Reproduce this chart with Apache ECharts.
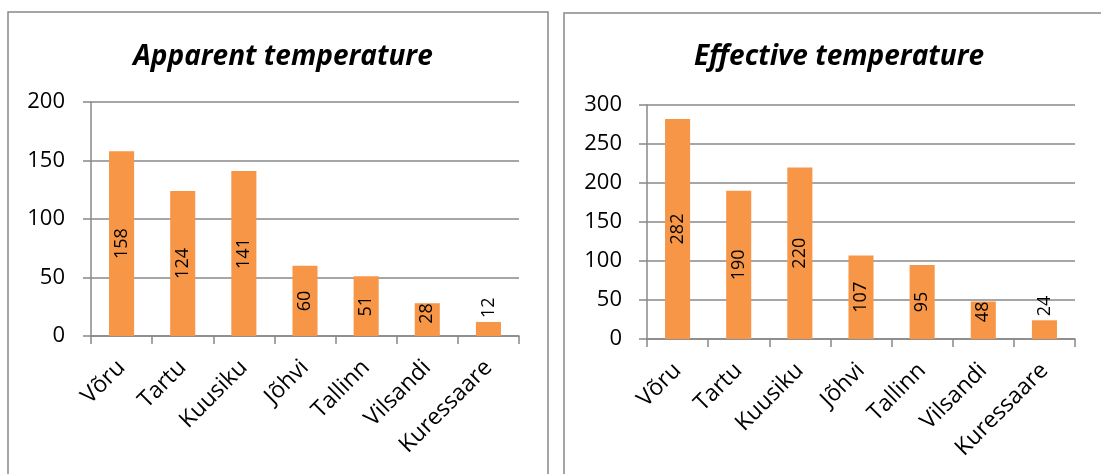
<!DOCTYPE html>
<html>
<head>
<meta charset="utf-8">
<title>Apparent and effective temperature</title>
<script src="https://cdn.jsdelivr.net/npm/echarts@6/dist/echarts.min.js"></script>
<style>
  html, body { margin: 0; padding: 0; background: #fff; }
  #chart { width: 1101px; height: 474px; }
</style>
</head>
<body>
<div id="chart"></div>
<script>
// Stations, shared by both panels
const stations = ['Võru', 'Tartu', 'Kuusiku', 'Jõhvi', 'Tallinn', 'Vilsandi', 'Kuressaare'];

// Panel values
const apparentValues = [158, 124, 141, 60, 51, 28, 12];
const effectiveValues = [282, 190, 220, 107, 95, 48, 24];

// Panel titles
const apparentTitle = 'Apparent temperature';
const effectiveTitle = 'Effective temperature';

// Value axis ranges
const apparentAxis = { min: 0, max: 200, interval: 50 };
const effectiveAxis = { min: 0, max: 300, interval: 50 };

const FONT = 'Open Sans';
const GREY = '#888888';
const BAR = '#F79646';

// Label placement for a bar: centred when it fits, hugging the top
// inside short bars, and above very short bars.
function barData(values, axisMax) {
  return values.map(function (v) {
    const r = v / axisMax;
    let label;
    if (r < 0.1) {
      label = { position: 'top', align: 'left', verticalAlign: 'middle', distance: 4 };
    } else if (r < 0.2) {
      label = { position: 'insideTop', align: 'right', verticalAlign: 'middle', distance: 0 };
    } else {
      label = { position: 'inside', align: 'center', verticalAlign: 'middle' };
    }
    return { value: v, label: label };
  });
}

function categoryAxis(gridIndex) {
  return {
    type: 'category',
    gridIndex: gridIndex,
    data: stations,
    boundaryGap: true,
    axisLine: { show: true, lineStyle: { color: GREY, width: 1.5 } },
    axisTick: { show: true, alignWithLabel: false, length: 8, lineStyle: { color: GREY, width: 1.5 } },
    axisLabel: {
      rotate: 45,
      margin: 28,
      interval: 0,
      color: '#000',
      fontFamily: FONT,
      fontSize: 23
    }
  };
}

function valueAxis(gridIndex, range, margin) {
  return {
    type: 'value',
    gridIndex: gridIndex,
    min: range.min,
    max: range.max,
    interval: range.interval,
    axisLine: { show: true, lineStyle: { color: GREY, width: 1.5 } },
    axisTick: { show: true, length: 8, lineStyle: { color: GREY, width: 1.5 } },
    splitLine: { show: true, lineStyle: { color: GREY, width: 1.5 } },
    axisLabel: {
      margin: margin,
      color: '#000',
      fontFamily: FONT,
      fontSize: 22
    }
  };
}

function barSeries(index, values, range) {
  return {
    type: 'bar',
    xAxisIndex: index,
    yAxisIndex: index,
    barWidth: '41%',
    itemStyle: { color: BAR },
    label: {
      show: true,
      rotate: 90,
      color: '#000',
      fontFamily: FONT,
      fontSize: 18
    },
    data: barData(values, range.max),
    animation: false
  };
}

const chart = echarts.init(document.getElementById('chart'), null, { renderer: 'canvas' });

const titleStyle = { fontFamily: FONT, fontSize: 28, fontWeight: 'bold', fontStyle: 'italic', color: '#000' };

chart.setOption({
  animation: false,
  backgroundColor: '#fff',
  title: [
    { text: apparentTitle, left: 278, top: 38, textAlign: 'center', textStyle: titleStyle },
    { text: effectiveTitle, left: 834, top: 38, textAlign: 'center', textStyle: titleStyle }
  ],
  grid: [
    { left: 91, top: 102, width: 428, height: 234 },
    { left: 647, top: 105, width: 428, height: 234 }
  ],
  xAxis: [categoryAxis(0), categoryAxis(1)],
  yAxis: [valueAxis(0, apparentAxis, 26), valueAxis(1, effectiveAxis, 25)],
  series: [
    barSeries(0, apparentValues, apparentAxis),
    barSeries(1, effectiveValues, effectiveAxis)
  ],
  graphic: [
    {
      type: 'rect',
      shape: { x: 8, y: 12, width: 540, height: 480 },
      style: { fill: 'none', stroke: GREY, lineWidth: 1.5 },
      z: -1
    },
    {
      type: 'rect',
      shape: { x: 564, y: 13, width: 545, height: 480 },
      style: { fill: 'none', stroke: GREY, lineWidth: 1.5 },
      z: -1
    }
  ]
});
</script>
</body>
</html>
